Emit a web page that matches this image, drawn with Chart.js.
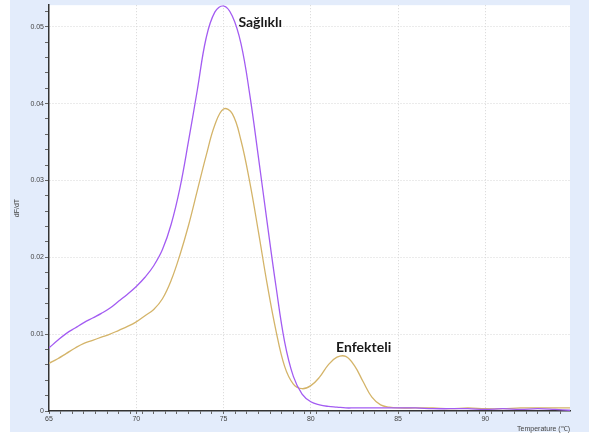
<!DOCTYPE html>
<html>
<head>
<meta charset="utf-8">
<script src="https://cdn.jsdelivr.net/npm/chart.js@4"></script>
<style>
  html, body { margin: 0; padding: 0; background: #fff; }
  canvas { display: block; }
</style>
</head>
<body>
<canvas id="meltChart" width="592" height="437"></canvas>
<script>
// melt curve readings (temperature in °C, dF/dT)
const temps = [65, 65.5, 66, 66.5, 67, 67.5, 68, 68.5, 69, 69.5, 70, 70.5, 71, 71.5, 72, 72.5, 73, 73.5, 74, 74.5,
  75, 75.5, 76, 76.5, 77, 77.5, 78, 78.5, 79, 79.5, 80, 80.5, 81, 81.5, 82, 82.5, 83, 83.5, 84, 84.5,
  85, 86, 87, 88, 89, 90, 91, 92, 93, 94, 94.85];
const healthy = [0.0082, 0.0092, 0.0101, 0.0108, 0.0115, 0.0121, 0.0127, 0.0134, 0.0143, 0.0152, 0.0162, 0.0174, 0.0189, 0.0210, 0.0243, 0.0290, 0.0352, 0.0418, 0.0485, 0.0519,
  0.0527, 0.0514, 0.0478, 0.0412, 0.0330, 0.0245, 0.0163, 0.0090, 0.0045, 0.0022, 0.0012, 0.0008, 0.0006, 0.0005, 0.0004, 0.0004, 0.0004, 0.0004, 0.0004, 0.0004,
  0.0004, 0.0004, 0.0003, 0.0003, 0.0003, 0.0002, 0.0003, 0.0002, 0.0003, 0.0002, 0.0001];
const infected = [0.0062, 0.0068, 0.0075, 0.0082, 0.0088, 0.0092, 0.0096, 0.0100, 0.0105, 0.0110, 0.0116, 0.0124, 0.0132, 0.0146, 0.0170, 0.0203, 0.0242, 0.0287, 0.0332, 0.0372,
  0.0393, 0.0387, 0.0352, 0.0298, 0.0233, 0.0165, 0.0105, 0.0058, 0.0035, 0.0029, 0.0033, 0.0044, 0.0060, 0.0070, 0.0071, 0.0059, 0.0038, 0.0018, 0.0008, 0.0005,
  0.0004, 0.0004, 0.0004, 0.0003, 0.0004, 0.0003, 0.0003, 0.0004, 0.0004, 0.0004, 0.0004];

const xMajor = [65, 70, 75, 80, 85, 90];
const yMajor = [0, 0.01, 0.02, 0.03, 0.04, 0.05];
const xMinorStep = 2 / 3;
const yMinorStep = 0.002;

const labels = [
  { text: "Sağlıklı", x: 75.85, y: 0.0505 },
  { text: "Enfekteli", x: 81.45, y: 0.0082 }
];

const isMajor = (list, v) => list.some(m => Math.abs(m - v) < 1e-9);

function buildTicks(major, step, min, max) {
  const vals = major.slice();
  for (let v = min; v <= max + 1e-9; v += step) {
    if (!major.some(m => Math.abs(m - v) < step / 4)) vals.push(+v.toFixed(6));
  }
  return vals.sort((a, b) => a - b).map(v => ({ value: v }));
}

const panel = {
  id: "panel",
  beforeDraw(chart) {
    const { ctx, chartArea: a } = chart;
    ctx.save();
    ctx.fillStyle = "#ffffff";
    ctx.fillRect(0, 0, chart.width, chart.height);
    ctx.fillStyle = "#e3ecfb";
    ctx.fillRect(10, 0, 579, 432);
    ctx.fillStyle = "#ffffff";
    ctx.fillRect(a.left, a.top, a.right - a.left, a.bottom - a.top);
    ctx.restore();
  },
  afterDraw(chart) {
    const { ctx, scales } = chart;
    ctx.save();
    ctx.fillStyle = "#444";
    ctx.font = "7px 'Liberation Sans', Arial, sans-serif";
    ctx.textAlign = "right";
    ctx.textBaseline = "middle";
    ctx.fillText("Temperature (\u2103)", 570, 429);
    ctx.translate(17, 208);
    ctx.rotate(-Math.PI / 2);
    ctx.textAlign = "center";
    ctx.fillText("dF/dT", 0, 0);
    ctx.restore();

    ctx.save();
    ctx.fillStyle = "#1a1a1a";
    ctx.font = "bold 14px Lato, 'Open Sans', sans-serif";
    ctx.textAlign = "left";
    ctx.textBaseline = "middle";
    labels.forEach(l => {
      ctx.fillText(l.text, scales.x.getPixelForValue(l.x), scales.y.getPixelForValue(l.y));
    });
    ctx.restore();
  }
};

new Chart(document.getElementById("meltChart"), {
  type: "line",
  data: {
    datasets: [
      {
        label: "Sağlıklı",
        data: temps.map((t, i) => ({ x: t, y: healthy[i] })),
        borderColor: "#a35cf2",
        borderWidth: 1.3,
        pointRadius: 0,
        tension: 0.4
      },
      {
        label: "Enfekteli",
        data: temps.map((t, i) => ({ x: t, y: infected[i] })),
        borderColor: "#d4b469",
        borderWidth: 1.3,
        pointRadius: 0,
        tension: 0.4
      }
    ]
  },
  options: {
    responsive: false,
    animation: false,
    devicePixelRatio: 1,
    layout: { padding: { left: 0, top: 1, right: 22, bottom: 0 } },
    plugins: { legend: { display: false }, tooltip: { enabled: false } },
    scales: {
      x: {
        type: "linear",
        min: 65,
        max: 94.85,
        afterBuildTicks: s => { s.ticks = buildTicks(xMajor, xMinorStep, 65, 94.85); },
        afterFit: s => { s.height = 26; },
        ticks: {
          autoSkip: false,
          maxRotation: 0,
          padding: 1,
          color: "#444",
          font: { size: 7, family: "'Liberation Sans', Arial, sans-serif" },
          callback: v => isMajor(xMajor, v) ? String(v) : ""
        },
        grid: {
          color: c => (c.tick && isMajor(xMajor, c.tick.value) && c.tick.value !== 65) ? "#d6d6d6" : "rgba(0,0,0,0)",
          tickColor: "#666",
          tickLength: 3,
          lineWidth: 1
        },
        border: { color: "#333", width: 1.5, dash: [1, 2] }
      },
      y: {
        type: "linear",
        min: 0,
        max: 0.0528,
        afterBuildTicks: s => { s.ticks = buildTicks(yMajor, yMinorStep, 0, 0.0528); },
        afterFit: s => { s.width = 49; },
        ticks: {
          autoSkip: false,
          padding: 1,
          color: "#444",
          font: { size: 7, family: "'Liberation Sans', Arial, sans-serif" },
          callback: v => isMajor(yMajor, v) ? String(v) : ""
        },
        grid: {
          color: c => (c.tick && isMajor(yMajor, c.tick.value) && c.tick.value !== 0) ? "#d6d6d6" : "rgba(0,0,0,0)",
          tickColor: "#666",
          tickLength: 4,
          lineWidth: 1
        },
        border: { color: "#333", width: 1.5, dash: [1, 2] }
      }
    }
  },
  plugins: [panel]
});
</script>
</body>
</html>
